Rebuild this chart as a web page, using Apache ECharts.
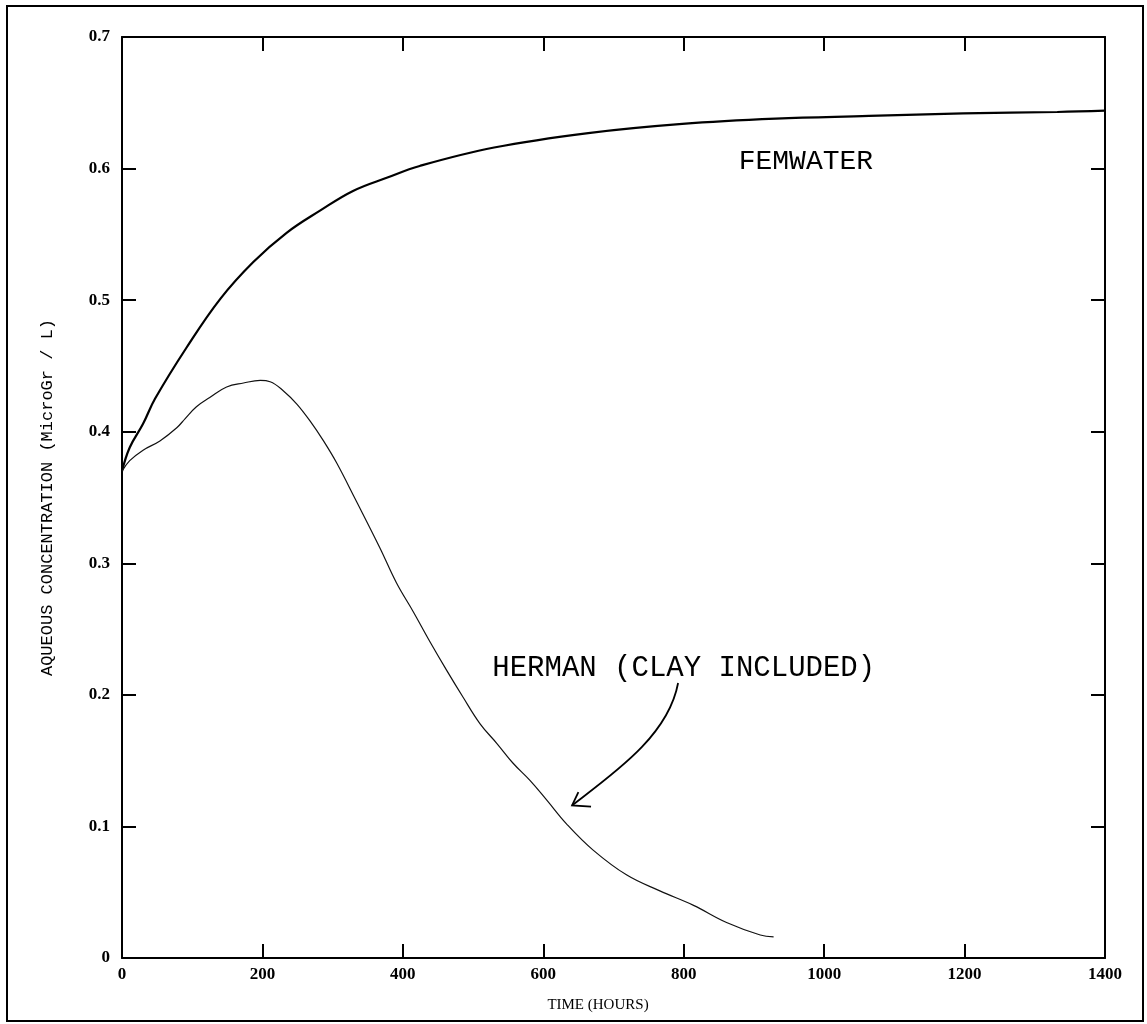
<!DOCTYPE html>
<html>
<head>
<meta charset="utf-8">
<script src="https://cdn.jsdelivr.net/npm/echarts@6/dist/echarts.min.js"></script>
<style>
html,body{margin:0;padding:0;background:#fff;}
#chart{width:1147px;height:1024px;}
</style>
</head>
<body>
<div id="chart"></div>
<script>
// ---- data ----
const femwaterHours = [0, 11, 30, 47, 92, 140, 187, 234, 282, 329, 377, 424, 530, 664, 798, 931, 1064, 1198, 1332, 1400];
const femwaterConc  = [0.370, 0.388, 0.406, 0.425, 0.464, 0.501, 0.529, 0.551, 0.568, 0.583, 0.593, 0.602, 0.616, 0.627, 0.634, 0.638, 0.640, 0.642, 0.643, 0.644];

const hermanHours = [0, 11, 30, 54, 78, 90, 106, 125, 149, 173, 197, 211, 230, 249, 268, 287, 306, 332, 367, 391, 415, 439, 462, 486, 510, 534, 557, 581, 605, 633, 671, 719, 766, 814, 861, 909, 928];
const hermanConc  = [0.370, 0.378, 0.386, 0.393, 0.403, 0.410, 0.419, 0.426, 0.434, 0.437, 0.439, 0.438, 0.431, 0.421, 0.408, 0.393, 0.376, 0.349, 0.312, 0.285, 0.263, 0.240, 0.219, 0.198, 0.178, 0.163, 0.148, 0.135, 0.120, 0.102, 0.082, 0.063, 0.051, 0.040, 0.027, 0.0175, 0.016];

const xTicks = {min: 0, max: 1400, interval: 200};
const yTicks = {min: 0, max: 0.7, interval: 0.1};

const seriesNames = ['FEMWATER', 'HERMAN (CLAY INCLUDED)'];
const yAxisTitle = 'AQUEOUS CONCENTRATION (MicroGr / L)';
const xAxisTitle = 'TIME (HOURS)';

// annotation anchors in data space [hours, conc]
const femLabelAt = [974, 0.605];
const hermanLabelAt = [800, 0.220];
const arrowStart = [792, 0.209];
const arrowCp1 = [778, 0.169];
const arrowCp2 = [702, 0.141];
const arrowTip = [641, 0.116];
const arrowArm1 = [650, 0.126];
const arrowArm2 = [668, 0.115];

const zip = (xs, ys) => xs.map((x, i) => [x, ys[i]]);

const mono = '"Liberation Mono", "DejaVu Sans Mono", monospace';
const serif = '"Liberation Serif", "DejaVu Serif", serif';

const chart = echarts.init(document.getElementById('chart'), null, {renderer: 'canvas'});

const axisLine = {show: true, onZero: false, lineStyle: {color: '#000', width: 2}};
const tickInside = {show: true, inside: true, length: 14, lineStyle: {color: '#000', width: 2}};
const plain = v => String(Math.round(v * 1000) / 1000);

chart.setOption({
  backgroundColor: '#fff',
  animation: false,
  grid: {left: 122, right: 42, top: 37, bottom: 66, containLabel: false},
  xAxis: [{
    type: 'value', position: 'bottom', min: xTicks.min, max: xTicks.max, interval: xTicks.interval,
    axisLine: axisLine, axisTick: tickInside, splitLine: {show: false},
    axisLabel: {color: '#000', fontFamily: serif, fontSize: 17, fontWeight: 'bold', margin: 8, formatter: plain},
    name: xAxisTitle, nameLocation: 'middle', nameGap: 40,
    nameTextStyle: {color: '#000', fontFamily: serif, fontSize: 15, padding: [0, 31, 0, 0]}
  }, {
    type: 'value', position: 'top', min: xTicks.min, max: xTicks.max, interval: xTicks.interval,
    axisLine: axisLine, axisTick: tickInside, axisLabel: {show: false}, splitLine: {show: false}
  }],
  yAxis: [{
    type: 'value', position: 'left', min: yTicks.min, max: yTicks.max, interval: yTicks.interval,
    axisLine: axisLine, axisTick: tickInside, splitLine: {show: false},
    axisLabel: {color: '#000', fontFamily: serif, fontSize: 17, fontWeight: 'bold', margin: 12, formatter: plain},
    name: yAxisTitle, nameLocation: 'middle', nameGap: 66, nameRotate: 90,
    nameTextStyle: {color: '#000', fontFamily: mono, fontSize: 17}
  }, {
    type: 'value', position: 'right', min: yTicks.min, max: yTicks.max, interval: yTicks.interval,
    axisLine: axisLine, axisTick: tickInside, axisLabel: {show: false}, splitLine: {show: false}
  }],
  series: [{
    name: seriesNames[0], type: 'line', data: zip(femwaterHours, femwaterConc),
    smooth: 0.4, showSymbol: false, lineStyle: {color: '#000', width: 2.2}
  }, {
    name: seriesNames[1], type: 'line', data: zip(hermanHours, hermanConc),
    smooth: 0.4, showSymbol: false, lineStyle: {color: '#111', width: 1.2}
  }],
  graphic: [{
    type: 'rect', shape: {x: 7, y: 6, width: 1136, height: 1015},
    style: {fill: null, stroke: '#000', lineWidth: 2}, silent: true
  }]
});

function px(p) { return chart.convertToPixel({xAxisIndex: 0, yAxisIndex: 0}, p); }

const s = px(arrowStart), c1 = px(arrowCp1), c2 = px(arrowCp2), t = px(arrowTip);
const a1 = px(arrowArm1), a2 = px(arrowArm2);
const fl = px(femLabelAt), hl = px(hermanLabelAt);

chart.setOption({
  graphic: [{
    type: 'rect', shape: {x: 7, y: 6, width: 1136, height: 1015},
    style: {fill: null, stroke: '#000', lineWidth: 2}, silent: true
  }, {
    type: 'text', x: fl[0], y: fl[1],
    style: {text: seriesNames[0], fill: '#000', font: '28px ' + mono, textAlign: 'center', textVerticalAlign: 'middle'}
  }, {
    type: 'text', x: hl[0], y: hl[1],
    style: {text: seriesNames[1], fill: '#000', font: '29px ' + mono, textAlign: 'center', textVerticalAlign: 'middle'}
  }, {
    type: 'bezierCurve',
    shape: {x1: s[0], y1: s[1], cpx1: c1[0], cpy1: c1[1], cpx2: c2[0], cpy2: c2[1], x2: t[0], y2: t[1]},
    style: {stroke: '#000', lineWidth: 1.8, fill: null}
  }, {
    type: 'polyline',
    shape: {points: [a1, t, a2]},
    style: {stroke: '#000', lineWidth: 1.8, fill: null}
  }]
});
</script>
</body>
</html>
